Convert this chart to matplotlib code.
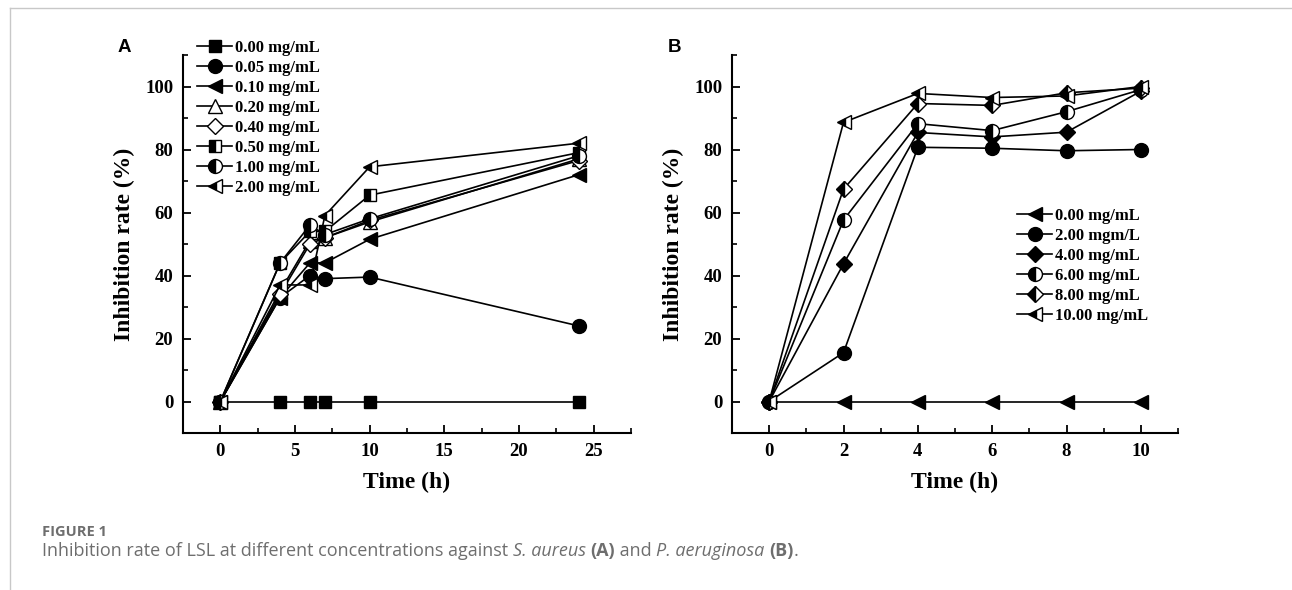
import numpy as np
import matplotlib
matplotlib.use("Agg")
from matplotlib import pyplot as plt
from matplotlib.lines import Line2D

# panel A: S. aureus
time_a = [0, 4, 6, 7, 10, 24]
labels_a = ["0.00 mg/mL", "0.05 mg/mL", "0.10 mg/mL", "0.20 mg/mL",
            "0.40 mg/mL", "0.50 mg/mL", "1.00 mg/mL", "2.00 mg/mL"]
c000 = [0, 0, 0, 0, 0, 0]
c005 = [0, 33, 40, 39, 39.5, 24]
c010 = [0, 33, 44, 44, 51.5, 72]
c020 = [0, 35, 51, 52, 57, 77]
c040 = [0, 34, 50, 52, 57.5, 76.5]
c050 = [0, 44, 54, 54, 65.5, 79]
c100 = [0, 44, 56, 53, 58, 78]
c200 = [0, 37, 37, 59, 74.5, 82]
vals_a = [c000, c005, c010, c020, c040, c050, c100, c200]

# panel B: P. aeruginosa
time_b = [0, 2, 4, 6, 8, 10]
labels_b = ["0.00 mg/mL", "2.00 mgm/L", "4.00 mg/mL", "6.00 mg/mL",
            "8.00 mg/mL", "10.00 mg/mL"]
p000 = [0, 0, 0, 0, 0, 0]
p200 = [0, 15.5, 80.7, 80.4, 79.6, 80]
p400 = [0, 43.7, 85.4, 84, 85.5, 98.5]
p600 = [0, 57.6, 88.2, 86, 92, 99]
p800 = [0, 67.4, 94.6, 94, 98, 99.5]
p1000 = [0, 88.6, 97.8, 96.5, 97, 100]
vals_b = [p000, p200, p400, p600, p800, p1000]

# marker, fillstyle, face colour
sty_a = [("s", "full", "k"), ("o", "full", "k"), ("<", "full", "k"),
         ("^", "full", "white"), ("D", "full", "white"), ("s", "left", "k"),
         ("o", "left", "k"), ("<", "left", "k")]
sty_b = [("<", "full", "k"), ("o", "full", "k"), ("D", "full", "k"),
         ("o", "left", "k"), ("D", "left", "k"), ("<", "left", "k")]
msize = {"s": 9, "o": 10, "<": 10, "^": 10, "D": 8}

serif = "Liberation Serif"
W, H = 1292, 590
fig = plt.figure(figsize=(W/100, H/100), dpi=100)

# page border lines
fig.add_artist(Line2D([10/W, 10/W], [0, 1 - 8/H], color="#c8c8c8", lw=1))
fig.add_artist(Line2D([10/W, 1], [1 - 8/H, 1 - 8/H], color="#c8c8c8", lw=1))


def style_ax(ax, xlim, xmaj, xmin):
    ax.set_xlim(*xlim)
    ax.set_ylim(-10, 110)
    ax.set_xticks(xmaj)
    ax.set_xticks(xmin, minor=True)
    ax.set_yticks([0, 20, 40, 60, 80, 100])
    ax.set_yticks([10, 30, 50, 70, 90, 110], minor=True)
    for s in ["top", "right"]:
        ax.spines[s].set_visible(False)
    for s in ["left", "bottom"]:
        ax.spines[s].set_linewidth(1.5)
    ax.tick_params(which="major", direction="in", length=6, width=1.3, pad=7, labelsize=13.5)
    ax.tick_params(which="minor", direction="in", length=3.5, width=1.2)
    for t in ax.get_xticklabels() + ax.get_yticklabels():
        t.set_fontfamily(serif)
        t.set_fontweight("bold")
    ax.set_xlabel("Time (h)", fontfamily=serif, fontweight="bold", fontsize=17, labelpad=9)
    ax.set_ylabel("Inhibition rate (%)", fontfamily=serif, fontweight="bold", fontsize=17, labelpad=7)


def add_legend(ax, x0, ytop):
    ax.legend(loc="upper left", bbox_to_anchor=(x0/W, 1 - ytop/H), bbox_transform=fig.transFigure,
              frameon=False, handlelength=2.1, handletextpad=0.2, labelspacing=0.24,
              borderpad=0, borderaxespad=0,
              prop={"family": serif, "weight": "bold", "size": 12})


axA = fig.add_axes([183/W, 1 - 433/H, 448/W, 378/H])
for y, lab, (m, fs, fc) in zip(vals_a, labels_a, sty_a):
    axA.plot(time_a, y, color="k", lw=1.2, marker=m, fillstyle=fs, markerfacecolor=fc,
             markerfacecoloralt="white", markeredgecolor="k", markersize=msize[m], label=lab)
style_ax(axA, (-2.5, 27.5), [0, 5, 10, 15, 20, 25], np.arange(2.5, 30, 5))
add_legend(axA, 197, 40)

axB = fig.add_axes([732/W, 1 - 433/H, 446/W, 378/H])
for y, lab, (m, fs, fc) in zip(vals_b, labels_b, sty_b):
    axB.plot(time_b, y, color="k", lw=1.2, marker=m, fillstyle=fs, markerfacecolor=fc,
             markerfacecoloralt="white", markeredgecolor="k", markersize=msize[m], label=lab)
style_ax(axB, (-1, 11), [0, 2, 4, 6, 8, 10], [1, 3, 5, 7, 9, 11])
add_legend(axB, 1017, 208)

fig.text(118/W, 1 - 48/H, "A", fontfamily="Liberation Sans", fontweight="bold",
         fontsize=13.5, va="center")
fig.text(668/W, 1 - 48/H, "B", fontfamily="Liberation Sans", fontweight="bold",
         fontsize=13.5, va="center")

# caption
cap_col = "#6e6e6e"
fig.text(42/W, 1 - 532/H, "FIGURE 1", fontfamily="Open Sans", fontweight="bold",
         fontsize=10.5, color=cap_col, va="center")
parts = [("Inhibition rate of LSL at different concentrations against ", "normal", "normal"),
         ("S. aureus", "italic", "normal"), (" ", "normal", "normal"),
         ("(A)", "normal", "bold"), (" and ", "normal", "normal"),
         ("P. aeruginosa", "italic", "normal"), (" ", "normal", "normal"),
         ("(B)", "normal", "bold"), (".", "normal", "normal")]
r = fig.canvas.get_renderer()
x = 42
for txt, st, wt in parts:
    t = fig.text(x/W, 1 - 551/H, txt, fontfamily="Open Sans", fontstyle=st,
                 fontweight=wt, fontsize=13, color=cap_col, va="center")
    x += t.get_window_extent(renderer=r).width

fig.savefig("out.png", dpi=100)
